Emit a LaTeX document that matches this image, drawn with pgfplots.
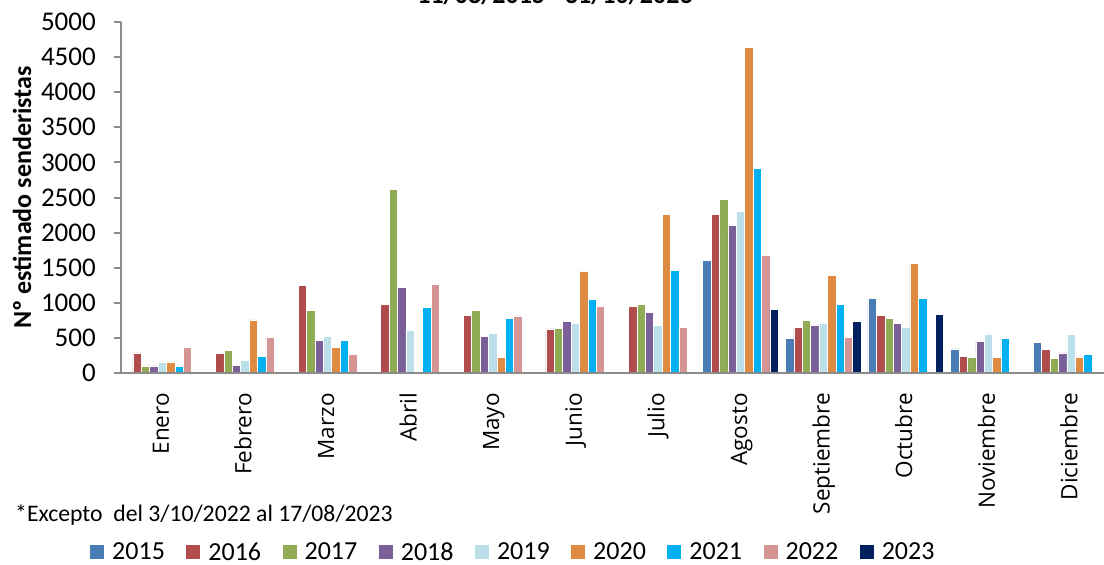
\documentclass[border=0pt]{standalone}
\usepackage{pgfplots}
\pgfplotsset{compat=1.18}
\usepackage{fontspec}
\setmainfont{Carlito}
\newfontfamily\opensans{Open Sans}
\definecolor{c2015}{HTML}{4A7CB5}
\definecolor{c2016}{HTML}{B04C4C}
\definecolor{c2017}{HTML}{8FAC55}
\definecolor{c2018}{HTML}{7A5F98}
\definecolor{c2019}{HTML}{BCE0EA}
\definecolor{c2020}{HTML}{E08B42}
\definecolor{c2021}{HTML}{00B0F0}
\definecolor{c2022}{HTML}{D69595}
\definecolor{c2023}{HTML}{002060}
\definecolor{axgray}{HTML}{8C8C8C}
\begin{document}
\begin{tikzpicture}
\begin{axis}[
  at={(121bp,192bp)}, anchor=south west,
  scale only axis, width=983bp, height=351bp,
  xmin=-0.5, xmax=11.4, ymin=0, ymax=5000,
  ybar=0pt, bar width=8.4bp,
  axis on top,
  axis x line*=bottom, axis y line*=left,
  axis line style={axgray, line width=2.6bp, -},
  ytick={0,500,...,5000},
  xtick={0,...,11},
  xticklabels={Enero,Febrero,Marzo,Abril,Mayo,Junio,Julio,Agosto,Septiembre,Octubre,Noviembre,Diciembre},
  xtick style={draw=none},
  ytick style={axgray, line width=2bp},
  tick align=outside, major tick length=7bp,
  /pgf/number format/assume math mode=true,
  /pgf/number format/1000 sep={},
  yticklabel style={font=\fontsize{27bp}{31bp}\selectfont, inner sep=0pt, anchor=east, xshift=-18bp},
  xticklabel style={font=\opensans\fontsize{22.5bp}{26bp}\selectfont, xshift=4bp, yshift=-13bp, rotate=90, anchor=east, inner sep=0pt, text height=0.75em, text depth=0.25em},
  ylabel={Nº estimado senderistas},
  ylabel style={font=\bfseries\fontsize{26bp}{30bp}\selectfont, at={(axis description cs:-0.1007,0.5)}, anchor=center},
  every axis plot/.append style={draw=white, line width=0.5bp},
  legend columns=9,
  legend style={at={(axis description cs:-0.0315,-0.5100)}, anchor=west, draw=none, fill=none, inner sep=0pt,
    font=\fontsize{26bp}{30bp}\selectfont,
    /tikz/every odd column/.append style={column sep=6bp},
    /tikz/every even column/.append style={column sep=19.5bp}},
  legend image code/.code={\path[#1, draw=none] (0bp,-7bp) rectangle (14bp,7bp);},
]
\addplot[fill=c2015] coordinates {(7,1600)(8,494)(9,1064)(10,342)(11,433)};
\addplot[fill=c2016] coordinates {(0,285)(1,275)(2,1248)(3,974)(4,826)(5,627)(6,946)(7,2256)(8,646)(9,826)(10,238)(11,337)};
\addplot[fill=c2017] coordinates {(0,100)(1,318)(2,897)(3,2617)(4,893)(5,641)(6,980)(7,2469)(8,750)(9,779)(10,223)(11,205)};
\addplot[fill=c2018] coordinates {(0,100)(1,108)(2,470)(3,1225)(4,527)(5,732)(6,866)(7,2103)(8,684)(9,708)(10,451)(11,285)};
\addplot[fill=c2019] coordinates {(0,160)(1,185)(2,517)(3,612)(4,565)(5,712)(6,682)(7,2307)(8,712)(9,646)(10,556)(11,547)};
\addplot[fill=c2020] coordinates {(0,160)(1,755)(2,370)(3,25)(4,219)(5,1453)(6,2258)(7,4639)(8,1387)(9,1558)(10,223)(11,219)};
\addplot[fill=c2021] coordinates {(0,90)(1,232)(2,460)(3,931)(4,775)(5,1050)(6,1462)(7,2910)(8,978)(9,1064)(10,494)(11,266)};
\addplot[fill=c2022] coordinates {(0,365)(1,503)(2,261)(3,1263)(4,812)(5,950)(6,655)(7,1671)(8,508)};
\addplot[fill=c2023] coordinates {(7,902)(8,736)(9,840)};
\legend{2015,2016,2017,2018,2019,2020,2021,2022,2023}
\end{axis}
\node[anchor=base, font=\bfseries\fontsize{26bp}{30bp}\selectfont] at (555bp,561bp) {11/08/2015 - 31/10/2023};
\node[anchor=base west, inner sep=0pt, font=\fontsize{23.7bp}{28bp}\selectfont] at (15bp,43bp) {*Excepto\ \ del 3/10/2022 al 17/08/2023};
\pgfresetboundingbox
\path[use as bounding box] (0,0) rectangle (1104bp,565bp);
\end{tikzpicture}
\end{document}
